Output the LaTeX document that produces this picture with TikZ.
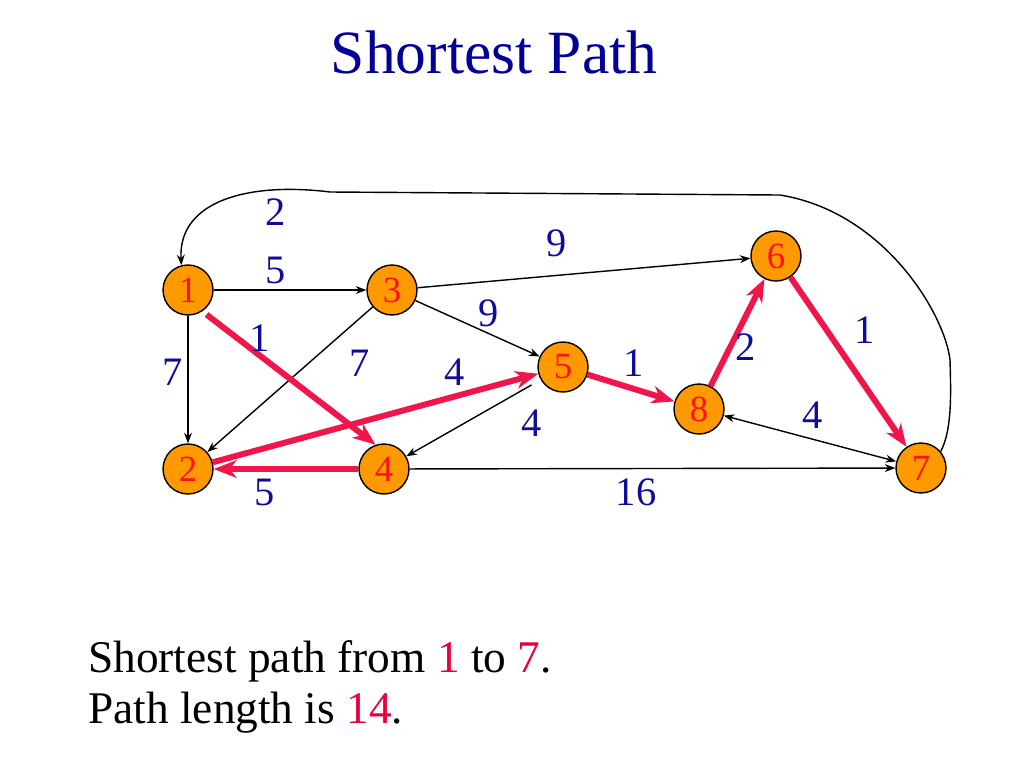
\documentclass[tikz,border=0pt]{standalone}
\usepackage{fontspec}
\setmainfont{Liberation Serif}
\usetikzlibrary{arrows.meta}

\definecolor{titleblue}{HTML}{000099}
\definecolor{weightblue}{HTML}{0D0D99}
\definecolor{pathred}{HTML}{F0164A}
\definecolor{numred}{HTML}{FF1020}
\definecolor{textred}{HTML}{E8003C}
\definecolor{nodeorange}{HTML}{FF9900}

\begin{document}
\begin{tikzpicture}[x=0.02cm, y=-0.02cm,
  vertex/.style={circle, draw=black, line width=0.8pt, fill=nodeorange,
    minimum size=1cm, inner sep=0pt, text=numred, font=\fontsize{21}{21}\selectfont},
  edge/.style={draw=black, line width=0.8pt, -{Stealth[length=6pt,width=4.5pt]}},
  bothway/.style={draw=black, line width=0.8pt,
    {Stealth[length=6pt,width=4.5pt]}-{Stealth[length=6pt,width=4.5pt]}},
  best/.style={draw=pathred, line width=3.4pt,
    -{Stealth[length=13pt,width=10pt,inset=4pt]}},
  weight/.style={text=weightblue, font=\fontsize{23}{23}\selectfont},
  caption/.style={anchor=base west, inner sep=0pt, font=\fontsize{25.8}{30}\selectfont}]

\useasboundingbox (0,0) rectangle (1024,768);

% --- Title ---
\node[anchor=base, text=titleblue, font=\fontsize{35}{35}\selectfont] (title) at (494,73) {Shortest Path};

% --- Vertices ---
\node[vertex] (n1) at (188,290) {1};
\node[vertex] (n2) at (188,469) {2};
\node[vertex] (n3) at (392,290) {3};
\node[vertex] (n4) at (384,469) {4};
\node[vertex] (n5) at (563,367) {5};
\node[vertex] (n6) at (776,256) {6};
\node[vertex] (n7) at (921,468) {7};
\node[vertex] (n8) at (699,409) {8};

% --- Plain edges ---
\draw[edge] (n1) -- (n3);
\draw[edge] (n1) -- (n2);
\draw[edge] (n3) -- (n6);
\draw[edge] (n3) -- (n5);
\draw[edge] (n3) -- (n2);
\draw[edge, shorten <=6pt] (n5) -- (n4);
\draw[edge] (n4) -- (n7);
\draw[bothway] (n8) -- (n7);
% Edge 7 -> 1 round the top
\draw[edge] (n7.40) .. controls (952,430) and (951,395) .. (950,360)
  .. controls (945,315) and (885,212) .. (780,195)
  -- (330,192)
  .. controls (250,182) and (178,200) .. (n1.105);

% --- Shortest path (red) ---
\draw[best, shorten <=3pt] (n1.-56) -- (n4.109);
\draw[best] (n4) -- (n2);
\draw[best] (n2) -- (n5);
\draw[best] (n5) -- (n8);
\draw[best] (n8) -- (n6);
\draw[best] (n6) -- (n7);

% --- Weights ---
\node[weight] (w71) at (276,212) {2};
\node[weight] (w13) at (276,270) {5};
\node[weight] (w14) at (260,338) {1};
\node[weight] (w12) at (173,372) {7};
\node[weight] (w32) at (360,363) {7};
\node[weight] (w36) at (557,243) {9};
\node[weight] (w35) at (489,313) {9};
\node[weight] (w25) at (455,372) {4};
\node[weight] (w54) at (532,423) {4};
\node[weight] (w58) at (634,363) {1};
\node[weight] (w86) at (746,347) {2};
\node[weight] (w67) at (865,330) {1};
\node[weight] (w87) at (813,415) {4};
\node[weight] (w42) at (265,492) {5};
\node[weight] (w47) at (636,492) {16};

% --- Caption ---
\node[caption] (lineA) at (88,672)
  {Shortest path from \textcolor{textred}{1} to \textcolor{textred}{7}.};
\node[caption] (lineB) at (88,723)
  {Path length is \textcolor{textred}{14}.};
\end{tikzpicture}
\end{document}
